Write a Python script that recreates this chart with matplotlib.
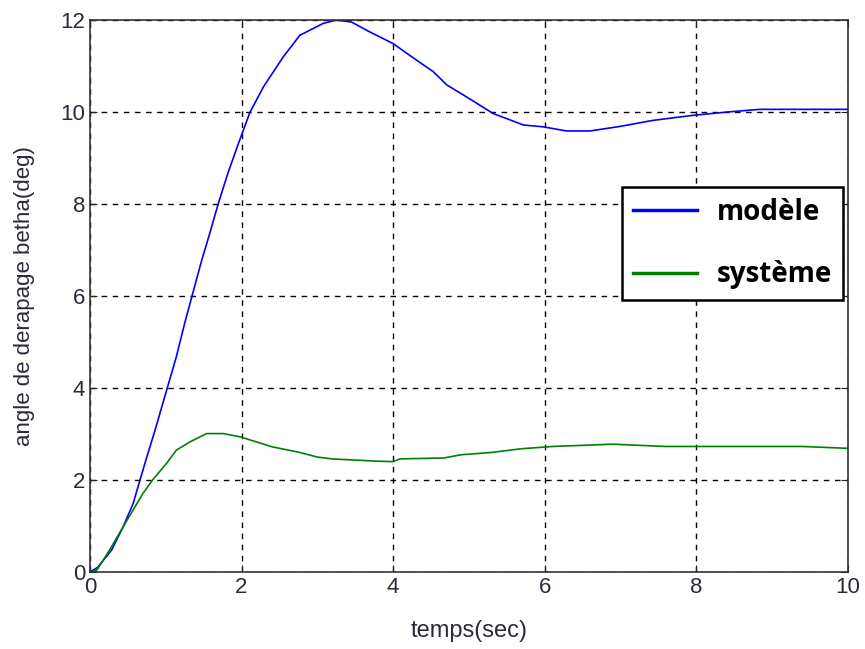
import matplotlib
matplotlib.use("Agg")
import matplotlib.pyplot as plt

# modèle (blue)
t_model = [0, 0.1, 0.286, 0.44, 0.57, 0.66, 0.75, 0.86, 1.02, 1.14, 1.25, 1.35, 1.47, 1.58, 1.69,
           1.82, 1.96, 2.11, 2.29, 2.55, 2.77, 3.08, 3.25, 3.45, 3.65, 4.0, 4.31, 4.53, 4.71, 5.0,
           5.32, 5.72, 5.98, 6.29, 6.6, 7.0, 7.43, 7.96, 8.4, 8.84, 10.0]
y_model = [0, 0.1, 0.478, 0.99, 1.49, 2.0, 2.5, 3.09, 4.0, 4.68, 5.41, 6.02, 6.75, 7.36, 7.99,
           8.67, 9.32, 9.99, 10.55, 11.2, 11.67, 11.93, 12.0, 11.96, 11.78, 11.49, 11.13, 10.88, 10.59, 10.3,
           9.97, 9.72, 9.68, 9.59, 9.59, 9.69, 9.82, 9.93, 10.0, 10.06, 10.06]

# système (green)
t_sys = [0, 0.09, 0.26, 0.44, 0.57, 0.70, 0.83, 1.01, 1.14, 1.32, 1.54, 1.76, 1.98, 2.41, 2.77,
         3.0, 3.19, 3.79, 4.0, 4.09, 4.67, 4.9, 5.3, 5.69, 6.11, 6.9, 7.59, 9.4, 10.0]
y_sys = [0, 0.04, 0.48, 0.99, 1.35, 1.71, 2.01, 2.36, 2.65, 2.83, 3.01, 3.01, 2.94, 2.72, 2.60,
         2.50, 2.46, 2.41, 2.40, 2.46, 2.48, 2.55, 2.60, 2.68, 2.73, 2.78, 2.73, 2.73, 2.69]

x_ticks = [0, 2, 4, 6, 8, 10]
y_ticks = [0, 2, 4, 6, 8, 10, 12]

plt.rcParams['font.family'] = ['Liberation Sans', 'DejaVu Sans']

fig = plt.figure(figsize=(8.65, 6.49), dpi=100)
ax = fig.add_axes([0.104, 0.1186, 0.876, 0.8504])

ax.plot(t_model, y_model, color='#0000ff', lw=1.2, label='modèle')
ax.plot(t_sys, y_sys, color='#008000', lw=1.2, label='système')

ax.set_xlim(0, 10)
ax.set_ylim(0, 12)
ax.set_xticks(x_ticks)
ax.set_yticks(y_ticks)
ax.tick_params(direction='in', top=True, right=True, labelsize=16, length=5,
               colors='#222222', labelcolor='#2a2a3a')
ax.grid(True, color='black', linestyle=(0, (4, 4)), linewidth=1.0)
for s in ax.spines.values():
    s.set_color('#333333')
    s.set_linewidth(1.2)

ax.set_xlabel('temps(sec)', fontsize=17, color='#2a2a3a', labelpad=16)
ax.set_ylabel('angle de derapage betha(deg)', fontsize=16, color='#2a2a3a', labelpad=18)

leg = ax.legend(loc='upper right', bbox_to_anchor=(0.994, 0.698), borderaxespad=0,
                prop={'family': 'Open Sans', 'weight': 'bold', 'size': 20},
                fancybox=False, framealpha=1, edgecolor='black',
                labelspacing=1.2, handlelength=2.3, handletextpad=0.7, borderpad=0.4)
leg.get_frame().set_linewidth(1.8)
for ln in leg.get_lines():
    ln.set_linewidth(2.5)

fig.savefig('out.png', dpi=100)
